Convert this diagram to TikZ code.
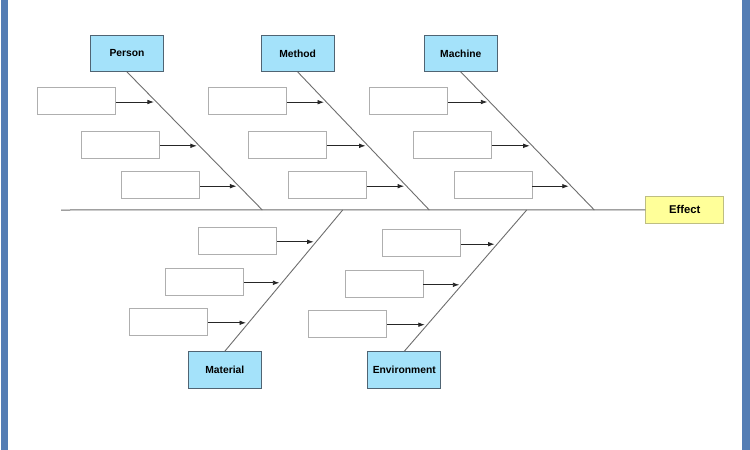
\documentclass[tikz,border=0pt]{standalone}
\usepackage{fontspec}
\setmainfont{Liberation Sans}
\usetikzlibrary{arrows.meta,calc}
\definecolor{catfill}{RGB}{164,226,250}
\definecolor{catdraw}{RGB}{80,100,115}
\definecolor{efffill}{RGB}{255,255,153}
\definecolor{effdraw}{RGB}{190,190,130}
\definecolor{subdraw}{RGB}{175,175,175}
\definecolor{bonecol}{RGB}{110,110,110}
\definecolor{framecol}{RGB}{84,125,180}
\tikzset{
  catbox/.style={draw=catdraw, fill=catfill, line width=0.9pt, minimum width=73pt, minimum height=36pt, inner sep=0pt, font=\fontsize{10.3}{12}\selectfont\bfseries},
  subbox/.style={draw=subdraw, fill=white, line width=0.9pt, minimum width=78pt, minimum height=27pt, inner sep=0pt},
  effbox/.style={draw=effdraw, fill=efffill, line width=0.9pt, minimum width=78pt, minimum height=26.5pt, inner sep=0pt, font=\fontsize{11.3}{13}\selectfont\bfseries},
  bone/.style={draw=bonecol, line width=0.9pt},
  spine/.style={draw=bonecol, line width=1pt},
  causearrow/.style={draw=black!85, line width=0.8pt, -{Latex[length=6.5pt,width=4.6pt]}, shorten >=2.5pt},
}
\begin{document}
\begin{tikzpicture}[x=1pt,y=-1pt]
\useasboundingbox (0,0) rectangle (750,450);
\fill[white] (0,0) rectangle (750,450);
% window frame bars
\fill[framecol] (1,0) rectangle (7.5,450);
\fill[framecol] (742,0) rectangle (750,450);

% effect and main spine
\node[effbox] (effect) at (684.8,209.8) {Effect};
\coordinate (tail) at (61,210);
\draw[spine] (tail) -- (effect.west);

% points where the bones meet the spine
\coordinate (jPerson) at (262.3,210);
\coordinate (jMethod) at (429.3,210);
\coordinate (jMachine) at (594.3,210);
\coordinate (jMaterial) at (342.7,210);
\coordinate (jEnv) at (526.7,210);

% category boxes
\node[catbox] (person) at (127,53.5) {Person};
\node[catbox] (method) at (297.7,53.5) {Method};
\node[catbox] (machine) at (460.8,53.5) {Machine};
\node[catbox, minimum height=37pt] (material) at (224.8,370.2) {Material};
\node[catbox, minimum height=37pt] (env) at (404.3,370.2) {Environment};

% bones
\draw[bone] (person.south) -- (jPerson);
\draw[bone] (method.south) -- (jMethod);
\draw[bone] (machine.south) -- (jMachine);
\draw[bone] (material.north) -- (jMaterial);
\draw[bone] (env.north) -- (jEnv);

% sub-cause boxes
\node[subbox] (pa) at (76.3,101) {};
\node[subbox] (pb) at (120.3,144.8) {};
\node[subbox] (pc) at (160.7,185.2) {};
\node[subbox] (ma) at (247.7,101.2) {};
\node[subbox] (mb) at (287.2,144.8) {};
\node[subbox] (mc) at (327.2,185.2) {};
\node[subbox] (ca) at (408.7,101) {};
\node[subbox] (cb) at (452.2,144.8) {};
\node[subbox] (cc) at (493,185.2) {};
\node[subbox] (ta) at (237.8,240.8) {};
\node[subbox] (tb) at (204.8,281.8) {};
\node[subbox] (tc) at (168.3,321.8) {};
\node[subbox] (ea) at (421.8,243.2) {};
\node[subbox] (eb) at (384,283.8) {};
\node[subbox] (ec) at (347.3,323.7) {};

% arrows from sub-cause boxes to the bones
\foreach \b/\s/\j in {pa/person.south/jPerson, pb/person.south/jPerson, pc/person.south/jPerson,
                      ma/method.south/jMethod, mb/method.south/jMethod, mc/method.south/jMethod,
                      ca/machine.south/jMachine, cb/machine.south/jMachine, cc/machine.south/jMachine,
                      ta/material.north/jMaterial, tb/material.north/jMaterial, tc/material.north/jMaterial,
                      ea/env.north/jEnv, eb/env.north/jEnv, ec/env.north/jEnv}{
  \coordinate (s) at ($(\b.east)+(0,1)$);
  \path let \p1=(\s), \p2=(\j), \p3=(s) in
    coordinate (hit) at ({\x1+(\x2-\x1)*(\y3-\y1)/(\y2-\y1)}, \y3);
  \draw[causearrow] (s) -- (hit);
}
\end{tikzpicture}
\end{document}
